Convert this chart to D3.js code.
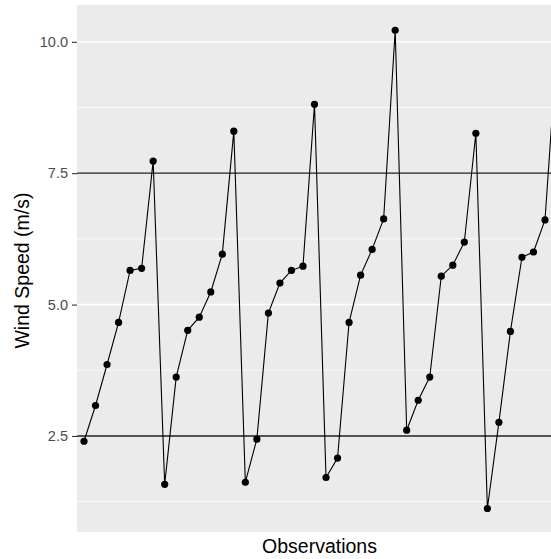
<!DOCTYPE html>
<html lang="en">
  <head>
    <meta charset="utf-8" />
    <title>Wind Speed</title>
    <script src="https://d3js.org/d3.v7.min.js"></script>
    <style>
      body { margin: 0; background: #fff; }
      text { font-family: "Liberation Sans", Arial, sans-serif; }
    </style>
  </head>
  <body>
    <div id="my_dataviz"></div>
  <script>
      const windSpeed = [2.40, 3.08, 3.86, 4.66, 5.65, 5.69, 7.73,
                         1.58, 3.62, 4.51, 4.76, 5.24, 5.96, 8.30,
                         1.62, 2.44, 4.84, 5.41, 5.65, 5.73, 8.81,
                         1.71, 2.08, 4.66, 5.56, 6.05, 6.63, 10.22,
                         2.61, 3.18, 3.62, 5.54, 5.75, 6.19, 8.26,
                         1.12, 2.76, 4.49, 5.90, 6.00, 6.61, 9.8];
      const yTicks = [2.5, 5.0, 7.5, 10.0];
      const yMinor = [1.25, 3.75, 6.25, 8.75];
      const refLines = [2.5, 7.5];

      const width = 551, height = 559;
      // panel box
      const panel = {left: 77, top: 5, right: 562, bottom: 532};

      const svg = d3.select("#my_dataviz")
        .append("svg")
          .attr("width", width)
          .attr("height", height);

      const x = d3.scaleLinear()
        .domain([0, 40])
        .range([84, 545]);

      const y = d3.scaleLinear()
        .domain([0.673, 10.70])
        .range([panel.bottom, panel.top]);

      // grey panel
      svg.append("rect")
        .attr("x", panel.left)
        .attr("y", panel.top)
        .attr("width", panel.right - panel.left)
        .attr("height", panel.bottom - panel.top)
        .attr("fill", "#EBEBEB");

      // gridlines
      svg.append("g")
        .selectAll("line")
        .data(yMinor)
        .join("line")
          .attr("x1", panel.left).attr("x2", panel.right)
          .attr("y1", d => y(d)).attr("y2", d => y(d))
          .attr("stroke", "#fff")
          .attr("stroke-width", 0.8);
      svg.append("g")
        .selectAll("line")
        .data(yTicks)
        .join("line")
          .attr("x1", panel.left).attr("x2", panel.right)
          .attr("y1", d => y(d)).attr("y2", d => y(d))
          .attr("stroke", "#fff")
          .attr("stroke-width", 1.6);

      // reference lines
      svg.append("g")
        .selectAll("line")
        .data(refLines)
        .join("line")
          .attr("x1", panel.left).attr("x2", panel.right)
          .attr("y1", d => y(d)).attr("y2", d => y(d))
          .attr("stroke", "#1a1a1a")
          .attr("stroke-width", 1.3);

      // Y axis
      const yAxis = svg.append("g")
        .attr("transform", `translate(${panel.left},0)`)
        .call(d3.axisLeft(y).tickValues(yTicks).tickFormat(d3.format(".1f")).tickSize(5).tickPadding(4));
      yAxis.select(".domain").remove();
      yAxis.selectAll(".tick line").attr("stroke", "#333").attr("stroke-width", 1.1);
      yAxis.selectAll(".tick text")
        .attr("fill", "#4D4D4D")
        .style("font-size", "14.5px")
        .style("font-family", "'Liberation Sans', Arial, sans-serif");

      // line + points
      const line = d3.line()
        .x((d, i) => x(i))
        .y(d => y(d));

      svg.append("path")
        .datum(windSpeed)
        .attr("fill", "none")
        .attr("stroke", "#000")
        .attr("stroke-width", 1.1)
        .attr("d", line);

      svg.append("g")
        .selectAll("circle")
        .data(windSpeed)
        .join("circle")
          .attr("cx", (d, i) => x(i))
          .attr("cy", d => y(d))
          .attr("r", 3.6)
          .attr("fill", "#000");

      // axis titles
      svg.append("text")
        .attr("x", (panel.left + panel.right) / 2)
        .attr("y", 553)
        .attr("text-anchor", "middle")
        .style("font-size", "19.5px")
        .attr("fill", "#000")
        .text("Observations");

      svg.append("text")
        .attr("transform", `translate(29, ${(panel.top + panel.bottom) / 2 + 2}) rotate(-90)`)
        .attr("text-anchor", "middle")
        .style("font-size", "19.5px")
        .attr("fill", "#000")
        .text("Wind Speed (m/s)");
  </script>
  </body>
</html>
